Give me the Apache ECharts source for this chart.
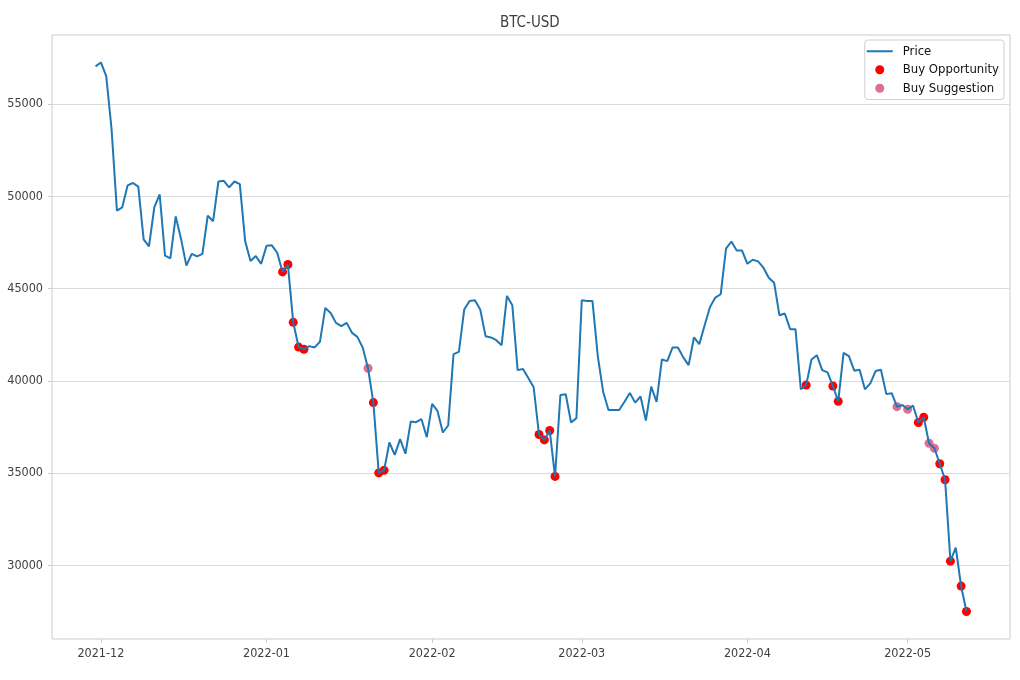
<!DOCTYPE html>
<html>
<head>
<meta charset="utf-8">
<script src="https://cdn.jsdelivr.net/npm/echarts@6/dist/echarts.min.js"></script>
<style>
  html, body { margin: 0; padding: 0; background: #ffffff; }
  #chart { width: 1020px; height: 680px; }
</style>
</head>
<body>
<div id="chart"></div>
<script>
// ---- data ----
const startDate = '2021-11-30';   // first daily close
const prices = [
  57040, 57250, 56510, 53630, 49220, 49400, 50590, 50720, 50520, 47660,
  47280, 49400, 50100, 46780, 46630, 48910, 47690, 46240, 46880, 46740,
  46880, 48950, 48650, 50800, 50840, 50480, 50800, 50660, 47570, 46490,
  46760, 46340, 47320, 47340, 46940, 45900, 46300, 43170, 41830, 41710,
  41880, 41810, 42120, 43950, 43680, 43140, 42960, 43140, 42600, 42380,
  41810, 40680, 38820, 35010, 35150, 36660, 35990, 36840, 36050, 37800,
  37760, 37920, 36950, 38750, 38370, 37200, 37580, 41450, 41570, 43860,
  44330, 44360, 43860, 42420, 42350, 42200, 41930, 44600, 44100, 40580,
  40640, 40150, 39650, 37090, 36800, 37310, 34820, 39230, 39270, 37740,
  37980, 44360, 44330, 44330, 41340, 39410, 38420, 38420, 38420, 38870,
  39340, 38820, 39150, 37850, 39690, 38860, 41160, 41070, 41810, 41810,
  41270, 40850, 42350, 41990, 43010, 44000, 44510, 44690, 47160, 47550,
  47060, 47060, 46340, 46560, 46470, 46130, 45590, 45320, 43550, 43650,
  42800, 42800, 39540, 39770, 41160, 41390, 40580, 40460, 39720, 38890,
  41520, 41340, 40550, 40600, 39540, 39860, 40530, 40600, 39280, 39330,
  38600, 38690, 38460, 38660, 37740, 38030, 36620, 36350, 35510, 34640,
  30230, 30960, 28880, 27500
];
const buyOpportunityDates = [
  '2022-01-04', '2022-01-05', '2022-01-06', '2022-01-07', '2022-01-08',
  '2022-01-21', '2022-01-22', '2022-01-23',
  '2022-02-21', '2022-02-22', '2022-02-23', '2022-02-24',
  '2022-04-12', '2022-04-17', '2022-04-18',
  '2022-05-03', '2022-05-04', '2022-05-07', '2022-05-08', '2022-05-09',
  '2022-05-11', '2022-05-12'
];
const buySuggestionDates = ['2022-01-20', '2022-04-29', '2022-05-01', '2022-05-05', '2022-05-06'];
const xTickLabels = ['2021-12', '2022-01', '2022-02', '2022-03', '2022-04', '2022-05'];
const yTickValues = [30000, 35000, 40000, 45000, 50000, 55000];

// ---- build ----
const DAY = 86400000;
function parseDay(s) { const p = s.split('-').map(Number); return Date.UTC(p[0], p[1] - 1, p[2] || 1); }
const t0 = parseDay(startDate);
const dates = prices.map((_, i) => t0 + i * DAY);
const linePts = prices.map((v, i) => [dates[i], v]);
function ptsFor(list) {
  return list.map(d => { const t = parseDay(d); const i = Math.round((t - t0) / DAY); return [t, prices[i]]; });
}
const xTicks = xTickLabels.map(parseDay);
function xLabel(v) {
  let best = 0, bd = Infinity;
  xTicks.forEach((t, k) => { const d = Math.abs(t - v); if (d < bd) { bd = d; best = k; } });
  return bd < DAY ? xTickLabels[best] : '';
}

const xSpan = dates[dates.length - 1] - dates[0];
const xMin = dates[0] - 0.05 * xSpan, xMax = dates[dates.length - 1] + 0.05 * xSpan;
const pMin = Math.min(...prices), pMax = Math.max(...prices);
const ySpan = pMax - pMin;
const yMin = pMin - 0.05 * ySpan, yMax = pMax + 0.05 * ySpan;

const FONT = '"DejaVu Sans Condensed", "DejaVu Sans", sans-serif';
const chart = echarts.init(document.getElementById('chart'), null, { renderer: 'canvas' });
chart.setOption({
  animation: false,
  backgroundColor: '#ffffff',
  title: {
    text: 'BTC-USD', left: 500, top: 16, padding: 0,
    textStyle: { fontFamily: FONT, fontSize: 15, fontWeight: 'normal', color: '#404040' }
  },
  legend: {
    orient: 'vertical', right: 16, top: 40,
    padding: [4, 5, 4, 2], itemGap: 4, itemWidth: 26, itemHeight: 9,
    backgroundColor: '#ffffff', borderColor: '#d0d0d0', borderWidth: 1, borderRadius: 3,
    textStyle: { fontFamily: FONT, fontSize: 13, color: '#111111', lineHeight: 14.5, padding: [0, 0, 0, 5] },
    data: [
      { name: 'Price', icon: 'path://M0,0 L26,0 L26,2 L0,2 Z' },
      { name: 'Buy Opportunity', icon: 'circle' },
      { name: 'Buy Suggestion', icon: 'circle' }
    ]
  },
  grid: { left: 52, right: 10, top: 35, bottom: 41, show: true, borderColor: '#cccccc', borderWidth: 1 },
  xAxis: {
    type: 'value', min: xMin, max: xMax, scale: true,
    axisLine: { show: false },
    axisTick: { show: true, length: 4, lineStyle: { color: '#cccccc' }, customValues: xTicks },
    axisLabel: {
      customValues: xTicks, margin: 8, fontFamily: FONT, fontSize: 12.5, color: '#404040',
      formatter: v => xLabel(v)
    },
    splitLine: { show: false }
  },
  yAxis: {
    type: 'value', min: yMin, max: yMax, scale: true,
    axisLine: { show: false },
    axisTick: { show: true, length: 4, lineStyle: { color: '#cccccc' }, customValues: yTickValues },
    axisLabel: {
      customValues: yTickValues, margin: 9, fontFamily: FONT, fontSize: 12.5, color: '#404040',
      formatter: v => String(Math.round(v))
    },
    splitLine: { show: true, lineStyle: { color: '#dcdcdc', width: 1 } }
  },
  series: [
    {
      name: 'Price', type: 'line', data: linePts, showSymbol: false, symbol: 'none',
      lineStyle: { color: '#1f77b4', width: 2 }, itemStyle: { color: '#1f77b4' }, z: 3
    },
    {
      name: 'Buy Opportunity', type: 'scatter', data: ptsFor(buyOpportunityDates),
      symbolSize: 9, itemStyle: { color: '#ff0000', opacity: 1 }, z: 2
    },
    {
      name: 'Buy Suggestion', type: 'scatter', data: ptsFor(buySuggestionDates),
      symbolSize: 9, itemStyle: { color: '#db7093', opacity: 1 }, z: 2
    }
  ]
});
</script>
</body>
</html>
